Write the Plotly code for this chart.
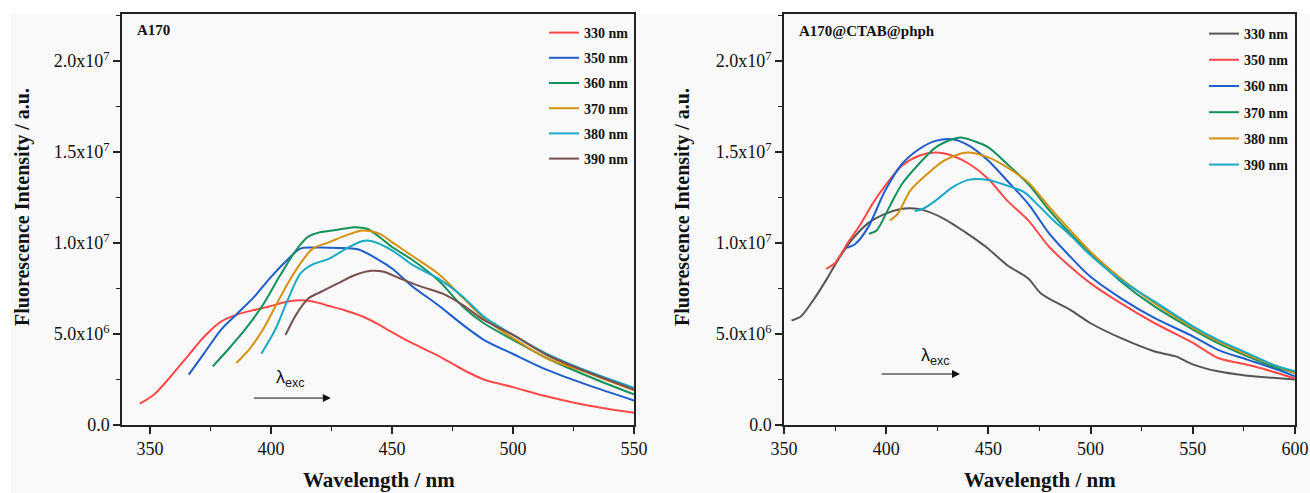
import plotly.graph_objects as go

# ---------------- data (left panel: A170) ----------------
L330_x = [345.7, 351.7, 358.6, 365.5, 372.4, 379.3, 386.2, 393.1, 400, 406.9, 412.1, 417.2, 424.1, 431, 437.9, 444.8, 450, 456.9, 469, 479.3, 487.9, 500, 513.8, 531, 550]
L330_y = [1.17, 1.68, 2.68, 3.77, 4.86, 5.68, 6.08, 6.32, 6.54, 6.78, 6.85, 6.78, 6.54, 6.28, 5.96, 5.50, 5.10, 4.59, 3.81, 3.04, 2.50, 2.08, 1.58, 1.07, 0.67]

L350_x = [366, 372.4, 379.3, 386.2, 393.1, 400, 406.9, 412.1, 417.2, 427.6, 436.2, 444.8, 450, 458.6, 469, 479.3, 487.9, 500, 513.8, 531, 550]
L350_y = [2.77, 3.95, 5.23, 6.14, 7.05, 8.14, 9.09, 9.69, 9.75, 9.73, 9.64, 9.05, 8.60, 7.60, 6.59, 5.50, 4.68, 3.90, 3.04, 2.19, 1.35]

L360_x = [375.9, 382.8, 389.7, 396.6, 403.4, 410.3, 415.5, 420.7, 427.6, 434.5, 439.7, 444.8, 450, 458.6, 469, 479.3, 487.9, 500, 513.8, 531, 550]
L360_y = [3.22, 4.23, 5.32, 6.59, 8.14, 9.60, 10.36, 10.60, 10.73, 10.87, 10.78, 10.33, 9.78, 9.05, 7.96, 6.50, 5.59, 4.68, 3.68, 2.68, 1.68]

L370_x = [385.7, 391.4, 396.6, 401.7, 406.9, 412.1, 417.2, 424.1, 431, 437.9, 444.8, 450, 458.6, 469, 479.3, 487.9, 500, 513.8, 531, 550]
L370_y = [3.41, 4.23, 5.23, 6.50, 7.78, 8.87, 9.69, 10.05, 10.42, 10.69, 10.51, 10.05, 9.27, 8.32, 6.99, 5.87, 4.77, 3.68, 2.86, 1.91]

L380_x = [396, 401.7, 406.9, 412.1, 417.2, 424.1, 431, 437.9, 441.4, 450, 458.6, 469, 479.3, 487.9, 500, 513.8, 531, 550]
L380_y = [3.92, 5.23, 6.87, 8.32, 8.82, 9.14, 9.69, 10.11, 10.11, 9.60, 8.78, 8.05, 7.05, 5.96, 4.95, 3.92, 2.95, 2.04]

L390_x = [406, 410.3, 415.5, 420.7, 427.6, 434.5, 441.4, 446.6, 453.4, 462.1, 470.7, 479.3, 487.9, 500, 513.8, 531, 550]
L390_y = [4.95, 6.05, 6.96, 7.32, 7.78, 8.23, 8.47, 8.42, 8.05, 7.60, 7.23, 6.59, 5.77, 4.95, 3.86, 2.90, 1.95]

# ---------------- data (right panel: A170@CTAB@phph) ----------------
R330_x = [353.7, 358.2, 364.4, 370.6, 376.8, 383, 391.2, 399.5, 407.7, 411.8, 418, 428.3, 438.6, 448.9, 459.2, 469.5, 475.7, 490.1, 500, 514.9, 531.4, 541.7, 550.3, 562.3, 576.7, 589.1, 600]
R330_y = [5.74, 5.96, 6.87, 7.96, 9.14, 10.15, 11.09, 11.60, 11.88, 11.91, 11.82, 11.33, 10.60, 9.78, 8.78, 8.05, 7.23, 6.32, 5.59, 4.77, 4.04, 3.77, 3.32, 2.95, 2.71, 2.59, 2.50]

R350_x = [370.6, 374.7, 380.9, 387.1, 393.3, 399.5, 407.7, 416, 424.2, 432.4, 440.7, 450, 459.2, 469.5, 479.8, 490.1, 500, 514.9, 531.4, 550.3, 562.3, 572.6, 582.9, 600]
R350_y = [8.58, 8.87, 9.96, 10.97, 12.15, 13.15, 14.24, 14.79, 14.97, 14.79, 14.34, 13.52, 12.33, 11.24, 9.78, 8.69, 7.78, 6.68, 5.59, 4.50, 3.68, 3.41, 3.13, 2.55]

R360_x = [380.9, 385, 391.2, 399.5, 407.7, 416, 424.2, 432.4, 440.7, 450, 459.2, 469.5, 479.8, 490.1, 500, 514.9, 531.4, 550.3, 562.3, 576.7, 589.1, 600]
R360_y = [9.74, 9.96, 10.87, 12.88, 14.34, 15.15, 15.61, 15.70, 15.34, 14.52, 13.42, 12.15, 10.51, 9.24, 8.14, 6.96, 5.87, 4.86, 4.13, 3.59, 3.13, 2.68]

R370_x = [391.6, 395.3, 401.5, 407.7, 416, 424.2, 432.4, 436.6, 444.8, 450, 459.2, 469.5, 479.8, 490.1, 500, 514.9, 531.4, 550.3, 562.3, 576.7, 589.1, 600]
R370_y = [10.51, 10.69, 11.97, 13.24, 14.34, 15.25, 15.70, 15.79, 15.52, 15.25, 14.34, 13.24, 11.79, 10.51, 9.42, 7.87, 6.50, 5.23, 4.50, 3.77, 3.22, 2.86]

R380_x = [401.9, 405.6, 411.8, 420.1, 428.3, 436.6, 440.7, 450, 459.2, 469.5, 479.8, 490.1, 500, 514.9, 531.4, 550.3, 562.3, 576.7, 589.1, 600]
R380_y = [11.24, 11.60, 12.88, 13.79, 14.52, 14.92, 14.97, 14.70, 14.15, 13.33, 11.97, 10.69, 9.51, 8.05, 6.68, 5.32, 4.59, 3.86, 3.32, 2.86]

R390_x = [413.9, 418, 424.2, 432.4, 440.7, 450, 459.2, 467.5, 473.7, 481.9, 490.1, 500, 514.9, 531.4, 550.3, 562.3, 576.7, 589.1, 600]
R390_y = [11.75, 11.88, 12.33, 13.06, 13.48, 13.46, 13.15, 12.79, 12.15, 11.24, 10.42, 9.33, 7.96, 6.78, 5.41, 4.68, 3.95, 3.32, 2.95]

left_names = ["330 nm", "350 nm", "360 nm", "370 nm", "380 nm", "390 nm"]
right_names = ["330 nm", "350 nm", "360 nm", "370 nm", "380 nm", "390 nm"]
left_colors = ["#ff4a4a", "#1f5ccc", "#12925a", "#d4900f", "#19a8c6", "#7b4f4f"]
right_colors = ["#555555", "#ff4a4a", "#1f5ccc", "#12925a", "#d4900f", "#19a8c6"]

y_tickvals = [0, 5e6, 1e7, 1.5e7, 2e7]
y_ticktext = ["0.0", "5.0x10<sup>6</sup>", "1.0x10<sup>7</sup>", "1.5x10<sup>7</sup>", "2.0x10<sup>7</sup>"]
x_tickvals = [350, 400, 450, 500, 550, 600]

SCALE = 1e6
left_series = [(L330_x, L330_y), (L350_x, L350_y), (L360_x, L360_y), (L370_x, L370_y), (L380_x, L380_y), (L390_x, L390_y)]
right_series = [(R330_x, R330_y), (R350_x, R350_y), (R360_x, R360_y), (R370_x, R370_y), (R380_x, R380_y), (R390_x, R390_y)]

W, H = 1310, 493
T, B = 14, 68
PH = H - T - B  # plot height in px
fig = go.Figure()

for i, (xs, ys) in enumerate(left_series):
    fig.add_trace(go.Scatter(x=xs, y=[v * SCALE for v in ys], mode="lines", name=left_names[i],
                             line=dict(color=left_colors[i], width=2, shape="spline", smoothing=0.8),
                             xaxis="x", yaxis="y", legend="legend", legendgroup="L%d" % i))
for i, (xs, ys) in enumerate(right_series):
    fig.add_trace(go.Scatter(x=xs, y=[v * SCALE for v in ys], mode="lines", name=right_names[i],
                             line=dict(color=right_colors[i], width=2, shape="spline", smoothing=0.8),
                             xaxis="x2", yaxis="y2", legend="legend2", legendgroup="R%d" % i))

serif = "Liberation Serif"
tickfont = dict(family=serif, size=18, color="#111")


def xaxis(domain, rng, anchor):
    return dict(domain=domain, range=rng, anchor=anchor, showgrid=False, zeroline=False, automargin=False,
                showline=True, linecolor="#222", linewidth=1.5, mirror=True,
                ticks="outside", ticklen=7, tickwidth=1.5, tickcolor="#222",
                tickvals=x_tickvals, tickfont=tickfont,
                minor=dict(ticks="outside", ticklen=4, tickwidth=1.2, tickcolor="#222", dtick=25, tick0=0))


def yaxis(anchor):
    return dict(domain=[0, 1], range=[0, 2.258e7], anchor=anchor, showgrid=False, zeroline=False, automargin=False,
                showline=True, linecolor="#222", linewidth=1.5, mirror=True,
                ticks="outside", ticklen=7, tickwidth=1.5, tickcolor="#222",
                tickvals=y_tickvals, ticktext=y_ticktext, tickfont=tickfont,
                minor=dict(ticks="outside", ticklen=4, tickwidth=1.2, tickcolor="#222", dtick=2.5e6, tick0=0))


legfont = dict(family=serif, size=14, color="#111", weight="bold")


def py(pix):
    """paper y from pixel row"""
    return (H - B - pix) / PH


fig.update_layout(
    width=W, height=H,
    margin=dict(l=0, r=0, t=T, b=B, autoexpand=False),
    paper_bgcolor="white", plot_bgcolor="#f9f9f9",
    xaxis=xaxis([122 / W, 634 / W], [338.4, 550], "y"),
    yaxis=yaxis("x"),
    xaxis2=xaxis([784 / W, 1295 / W], [350, 600], "y2"),
    yaxis2=yaxis("x2"),
    legend=dict(x=544 / W, y=py(17), xanchor="left", yanchor="top", bgcolor="rgba(0,0,0,0)",
                font=legfont, tracegroupgap=4, traceorder="grouped"),
    legend2=dict(x=1204 / W, y=py(18), xanchor="left", yanchor="top", bgcolor="rgba(0,0,0,0)",
                 font=legfont, tracegroupgap=5, traceorder="grouped"),
    shapes=[dict(type="rect", xref="paper", yref="paper", layer="below",
                 x0=11 / W, x1=1.0, y0=py(H), y1=py(13),
                 fillcolor="#f9f9f9", line=dict(width=0))],
    annotations=[
        dict(text="<b>Wavelength / nm</b>", xref="paper", yref="paper", x=379 / W, y=py(480),
             xanchor="center", yanchor="middle",
             showarrow=False, font=dict(family=serif, size=21, color="#111")),
        dict(text="<b>Wavelength / nm</b>", xref="paper", yref="paper", x=1040 / W, y=py(480),
             xanchor="center", yanchor="middle",
             showarrow=False, font=dict(family=serif, size=21, color="#111")),
        dict(text="<b>Fluorescence Intensity / a.u.</b>", xref="paper", yref="paper", x=22 / W, y=py(207),
             xanchor="center", yanchor="middle",
             textangle=-90, showarrow=False, font=dict(family=serif, size=20, color="#111")),
        dict(text="<b>Fluorescence Intensity / a.u.</b>", xref="paper", yref="paper", x=682 / W, y=py(207),
             xanchor="center", yanchor="middle",
             textangle=-90, showarrow=False, font=dict(family=serif, size=20, color="#111")),
        dict(text="<b>A170</b>", xref="x domain", yref="y domain", x=0.025, y=py(30), xanchor="left", yanchor="middle",
             showarrow=False, font=dict(family=serif, size=15, color="#111")),
        dict(text="<b>A170@CTAB@phph</b>", xref="x2 domain", yref="y2 domain", x=0.026, y=py(31), xanchor="left", yanchor="middle",
             showarrow=False, font=dict(family=serif, size=15, color="#111")),
        dict(text="λ<sub>exc</sub>", xref="x", yref="y", x=408, y=2.58e6, showarrow=False,
             font=dict(family="Liberation Sans", size=18, color="#111")),
        dict(text="", xref="x", yref="y", axref="x", ayref="y", x=424.7, y=1.48e6, ax=392.3, ay=1.48e6,
             showarrow=True, arrowhead=2, arrowsize=1.6, arrowwidth=1, arrowcolor="#111"),
        dict(text="λ<sub>exc</sub>", xref="x2", yref="y2", x=424, y=3.74e6, showarrow=False,
             font=dict(family="Liberation Sans", size=18, color="#111")),
        dict(text="", xref="x2", yref="y2", axref="x2", ayref="y2", x=436.1, y=2.8e6, ax=397, ay=2.8e6,
             showarrow=True, arrowhead=2, arrowsize=1.6, arrowwidth=1, arrowcolor="#111"),
    ],
)

fig.write_html("out.html", config={"displayModeBar": False},
               post_script="document.body.style.margin='0px'; document.body.style.overflow='hidden';")
